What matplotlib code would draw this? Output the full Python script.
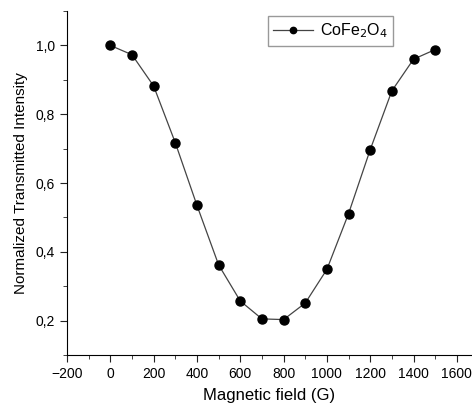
import matplotlib
matplotlib.use("Agg")
import matplotlib.pyplot as plt
from matplotlib.ticker import FuncFormatter, MultipleLocator

plt.rcParams['font.family'] = ['Liberation Sans', 'DejaVu Sans']

# transmission vs applied field
field = [0, 100, 200, 300, 400, 500, 600, 700, 800, 900, 1000, 1100, 1200, 1300, 1400, 1500]
intensity = [1.000, 0.973, 0.882, 0.717, 0.535, 0.362, 0.257, 0.205, 0.203, 0.251,
             0.349, 0.511, 0.697, 0.868, 0.960, 0.988]

fig = plt.figure(figsize=(4.72, 4.09), dpi=100)
ax = fig.add_axes([0.142, 0.132, 0.858, 0.841])

ax.plot(field, intensity, '-', color='#444444', lw=0.9,
        marker='o', ms=6.5, mfc='black', mec='black', label='CoFe$_2$O$_4$')

ax.set_xlim(-200, 1670)
ax.set_ylim(0.1, 1.1)
ax.xaxis.set_major_locator(MultipleLocator(200))
ax.xaxis.set_minor_locator(MultipleLocator(100))
ax.yaxis.set_major_locator(MultipleLocator(0.2))
ax.yaxis.set_minor_locator(MultipleLocator(0.1))
ax.yaxis.set_major_formatter(FuncFormatter(lambda v, p: f"{v:.1f}".replace('.', ',')))
ax.xaxis.set_major_formatter(FuncFormatter(lambda v, p: f"{v:.0f}".replace('-', '\u2212')))

for s in ('top', 'right'):
    ax.spines[s].set_visible(False)
ax.tick_params(which='both', direction='out', labelsize=10, color='#222222')
ax.tick_params(which='major', length=5)
ax.tick_params(which='minor', length=3)

ax.set_xlabel('Magnetic field (G)', fontsize=12, labelpad=5)
ax.set_ylabel('Normalized Transmitted Intensity', fontsize=11, labelpad=6)

leg = ax.legend(loc='upper left', bbox_to_anchor=(0.496, 0.985), borderaxespad=0,
                fontsize=11.5, fancybox=False, edgecolor='#999999', framealpha=1,
                handlelength=2.5, borderpad=0.35, handletextpad=0.4, markerscale=0.7)

fig.savefig('out.png', dpi=100)
